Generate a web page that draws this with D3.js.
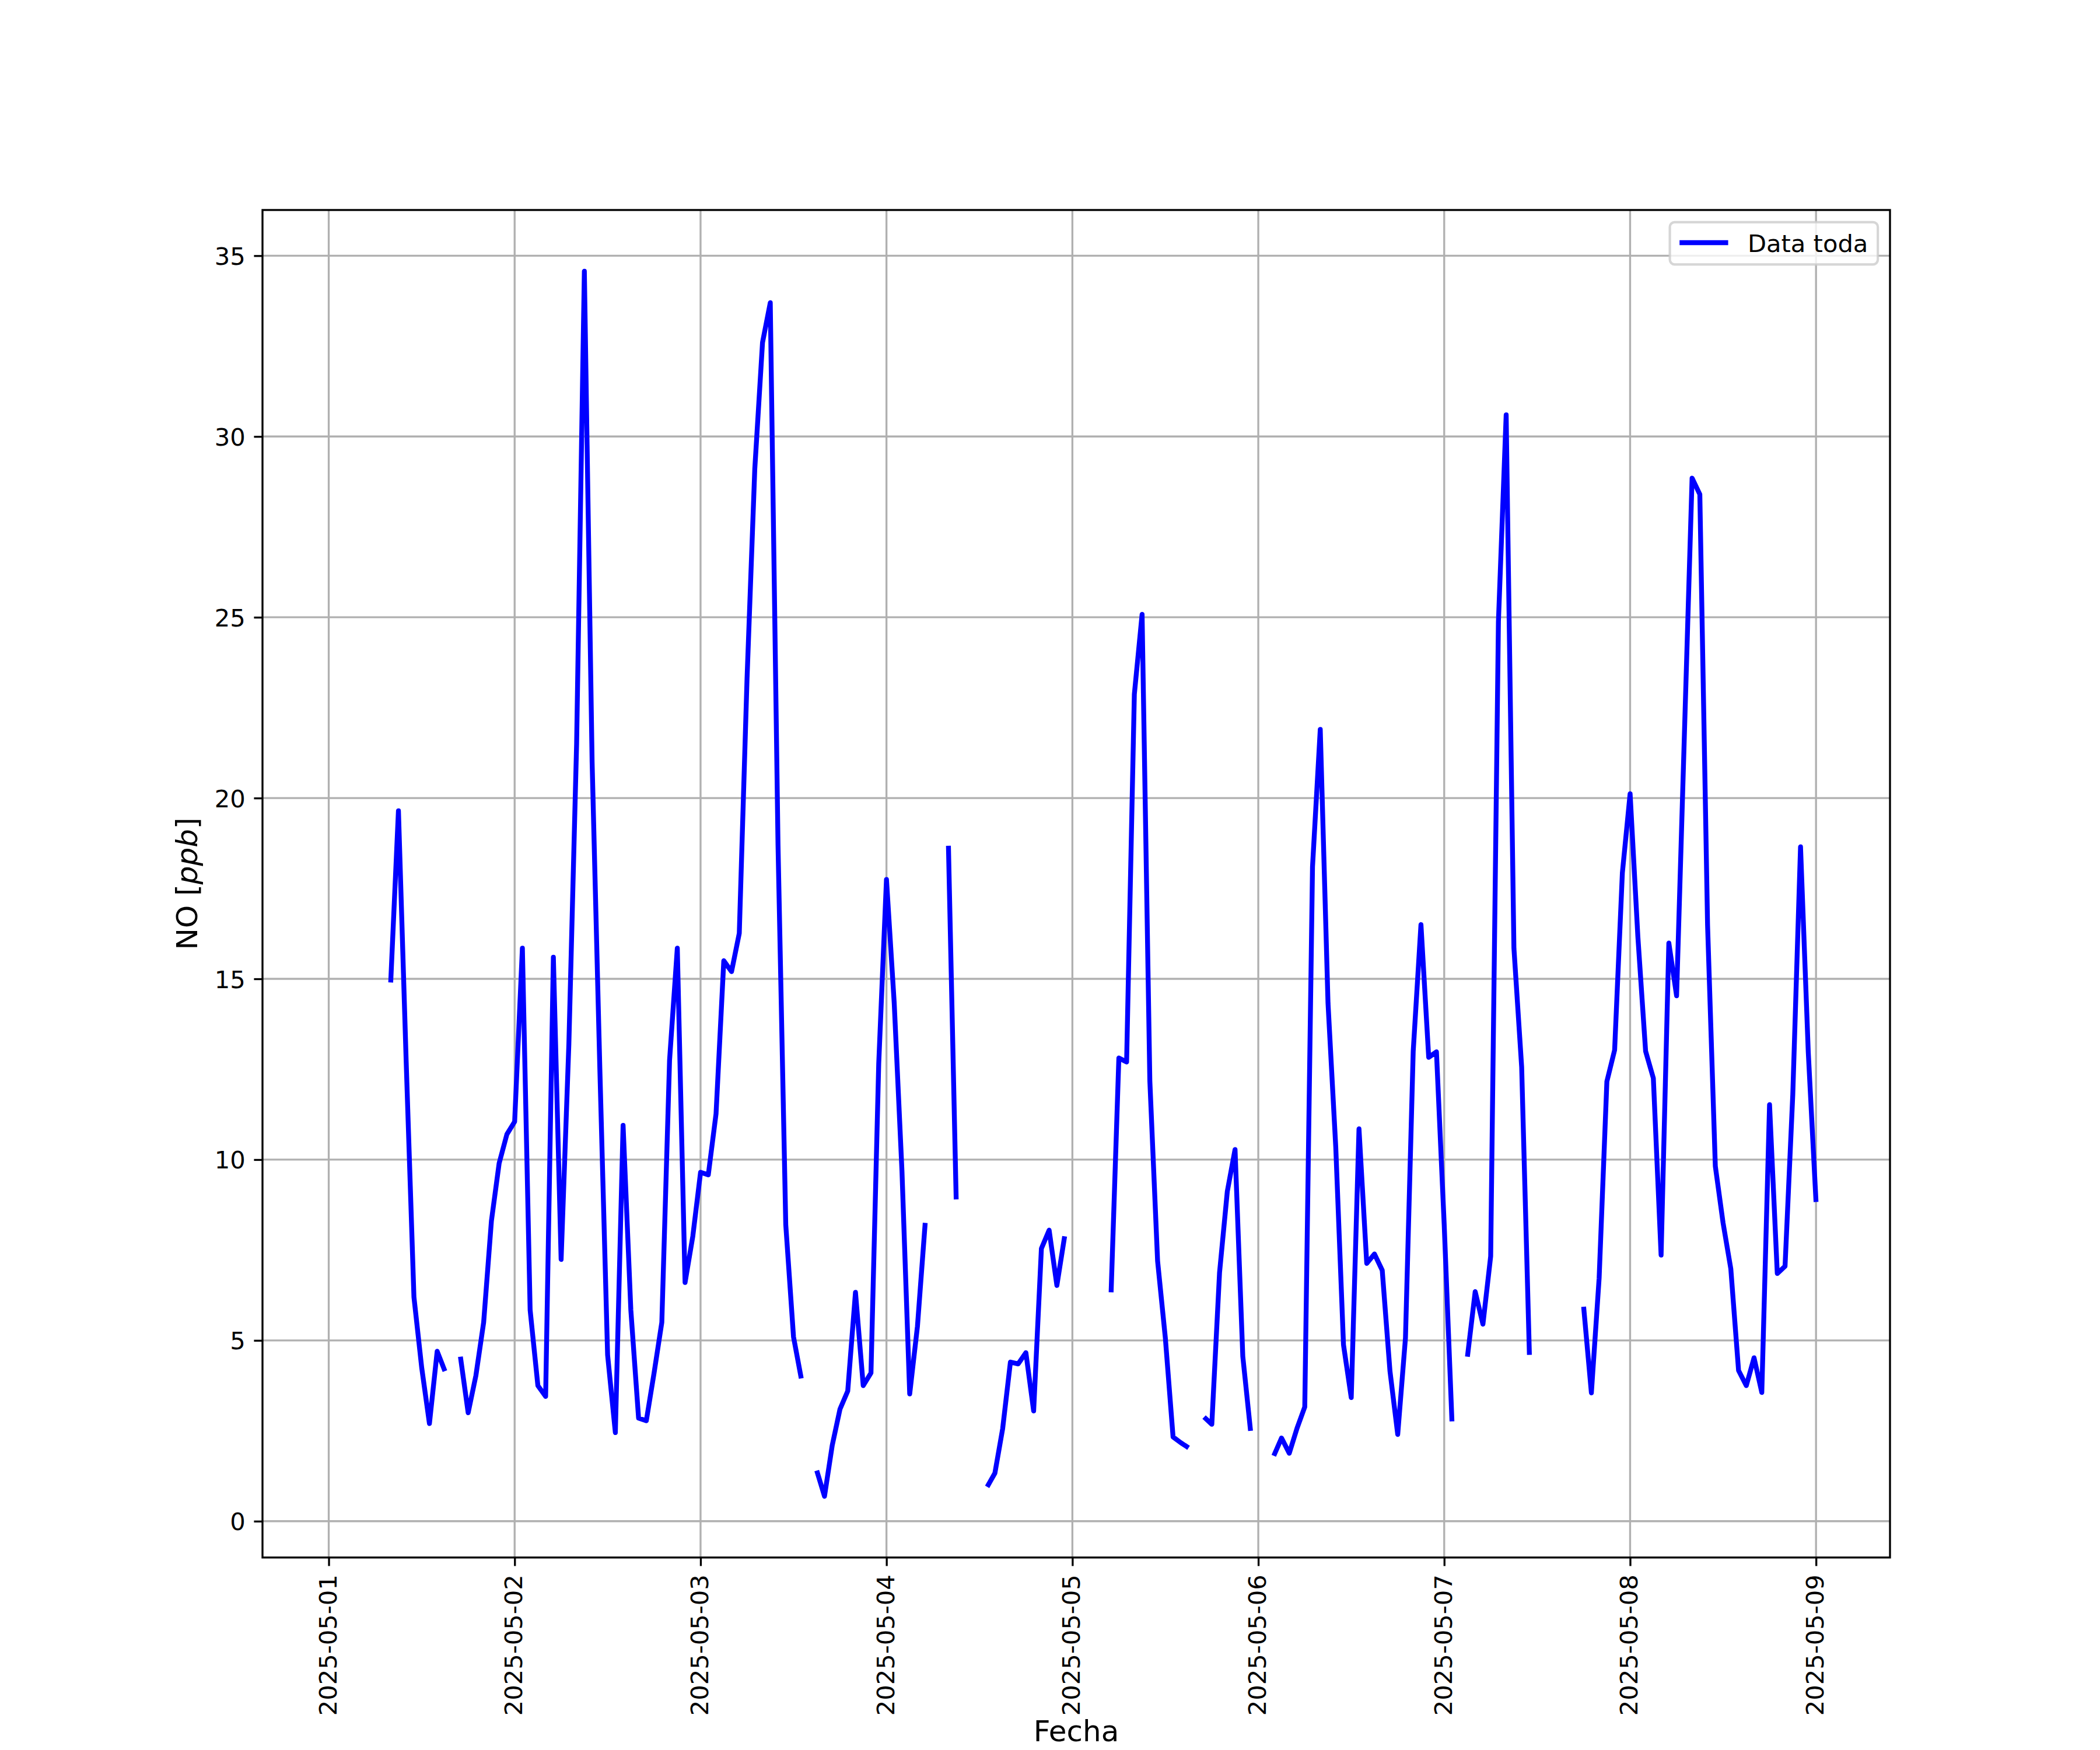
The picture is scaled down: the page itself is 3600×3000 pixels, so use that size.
<!DOCTYPE html>
<html>
<head>
<meta charset="utf-8">
<script src="https://cdn.jsdelivr.net/npm/d3@7"></script>
<style>
  html, body { margin: 0; padding: 0; background: #ffffff; }
  svg { display: block; }
  text { font-family: "DejaVu Sans", sans-serif; }
</style>
</head>
<body>
<script>
// ---------------- data ----------------
const seriesName = "Data toda";
const xLabel = "Fecha";
const yLabelMain = "NO [";
const yLabelUnit = "ppb";
const yLabelEnd = "]";
// hourly series, first timestamp 2025-05-01 01:00, null = missing
const startTime = "2025-05-01T01:00:00Z";
const values = [
  null, null, null, null, null, null, null,
  14.9, 19.65, 12.7, 6.2, 4.25, 2.7, 4.7, 4.15, null, 4.55, 3.0, 4.03, 5.5, 8.3, 9.9, 10.7, 11.05,
  15.85, 5.84, 3.75, 3.45, 15.6, 7.24, 13.2, 21.5, 34.57, 21.0, 12.5, 4.6, 2.45, 10.95, 5.84, 2.85, 2.78, 4.1, 5.5, 12.75, 15.85, 6.6, 7.88, 9.65,
  9.58, 11.27, 15.5, 15.2, 16.26, 23.3, 29.1, 32.6, 33.7, 18.7, 8.2, 5.1, 3.95, null, 1.4, 0.69, 2.1, 3.1, 3.6, 6.33, 3.75, 4.1, 12.65, 17.75,
  14.33, 9.69, 3.52, 5.39, 8.25, null, null, 18.68, 8.9, null, null, null, 0.95, 1.33, 2.56, 4.4, 4.35, 4.66, 3.05, 7.54, 8.05, 6.52, 7.88, null,
  null, null, null, null, 6.33, 12.81, 12.7, 22.87, 25.08, 12.18, 7.2, 5.07, 2.33, 2.17, 2.03, null, 2.88, 2.68, 6.88, 9.12, 10.28, 4.56, 2.5, null,
  null, 1.81, 2.3, 1.88, 2.57, 3.16, 18.1, 21.9, 14.33, 10.35, 4.88, 3.42, 10.85, 7.13, 7.39, 6.94, 4.15, 2.4, 5.07, 13.0, 16.5, 12.83, 12.98, 8.2,
  2.76, null, 4.55, 6.35, 5.45, 7.33, 24.88, 30.6, 15.85, 12.56, 4.6, null, null, null, null, null, null, 5.93, 3.55, 6.72, 12.16, 13.03, 17.93, 20.12,
  16.17, 13.0, 12.25, 7.36, 15.99, 14.53, 21.7, 28.85, 28.4, 16.48, 9.82, 8.25, 6.98, 4.17, 3.75, 4.52, 3.56, 11.52, 6.85, 7.05, 11.8, 18.65, 12.97, 8.83
];
const xTickLabels = ["2025-05-01", "2025-05-02", "2025-05-03", "2025-05-04", "2025-05-05",
                     "2025-05-06", "2025-05-07", "2025-05-08", "2025-05-09"];
const yTicks = [0, 5, 10, 15, 20, 25, 30, 35];

// ---------------- layout ----------------
const W = 3600, H = 3000;
const plot = { left: 450, right: 3240, top: 360, bottom: 2670 };
const FS = 41.667;            // 10 pt @ 300 dpi (ticks, legend)
const LFS = 50;               // 12 pt @ 300 dpi (axis labels)
const tickLen = 14.58, tickPad = 14.58, thin = 3.33;
const LW = 8.33;

const t0 = new Date(startTime).getTime();
const data = values.map((v, i) => ({ t: new Date(t0 + i * 3600e3), v: v }));

const tExt = d3.extent(data, d => d.t);
const tSpan = tExt[1] - tExt[0];
const x = d3.scaleUtc()
  .domain([new Date(+tExt[0] - 0.05 * tSpan), new Date(+tExt[1] + 0.05 * tSpan)])
  .range([plot.left, plot.right]);

const vExt = d3.extent(data.filter(d => d.v != null), d => d.v);
const vSpan = vExt[1] - vExt[0];
const y = d3.scaleLinear()
  .domain([vExt[0] - 0.05 * vSpan, vExt[1] + 0.05 * vSpan])
  .range([plot.bottom, plot.top]);

const xTickDates = xTickLabels.map(s => new Date(s + "T00:00:00Z"));

const svg = d3.select("body").append("svg")
  .attr("width", W).attr("height", H)
  .attr("viewBox", `0 0 ${W} ${H}`);

svg.append("rect").attr("width", W).attr("height", H).attr("fill", "#ffffff");

svg.append("defs").append("clipPath").attr("id", "clip")
  .append("rect")
  .attr("x", plot.left).attr("y", plot.top)
  .attr("width", plot.right - plot.left).attr("height", plot.bottom - plot.top);

// grid
const grid = svg.append("g").attr("stroke", "#b0b0b0").attr("stroke-width", thin);
grid.selectAll("line.gx").data(xTickDates).join("line")
  .attr("x1", d => x(d)).attr("x2", d => x(d))
  .attr("y1", plot.top).attr("y2", plot.bottom);
grid.selectAll("line.gy").data(yTicks).join("line")
  .attr("x1", plot.left).attr("x2", plot.right)
  .attr("y1", d => y(d)).attr("y2", d => y(d));

// series line
const line = d3.line()
  .defined(d => d.v != null)
  .x(d => x(d.t))
  .y(d => y(d.v));

svg.append("path")
  .datum(data)
  .attr("clip-path", "url(#clip)")
  .attr("fill", "none")
  .attr("stroke", "#0000ff")
  .attr("stroke-width", LW)
  .attr("stroke-linejoin", "round")
  .attr("stroke-linecap", "butt")
  .attr("d", line);

// axes
const yAxis = d3.axisLeft(y).tickValues(yTicks).tickSize(tickLen).tickPadding(tickPad)
  .tickFormat(d3.format("d"));
const gy = svg.append("g").attr("transform", `translate(${plot.left},0)`).call(yAxis);
gy.select(".domain").remove();
gy.selectAll(".tick line").attr("stroke", "#000").attr("stroke-width", thin);
gy.selectAll(".tick text")
  .attr("font-family", "DejaVu Sans").attr("font-size", FS).attr("fill", "#000")
  .attr("dy", "0.36em");

const xAxis = d3.axisBottom(x).tickValues(xTickDates).tickSize(tickLen).tickPadding(tickPad)
  .tickFormat((d, i) => xTickLabels[i]);
const gx = svg.append("g").attr("transform", `translate(0,${plot.bottom})`).call(xAxis);
gx.select(".domain").remove();
gx.selectAll(".tick line").attr("stroke", "#000").attr("stroke-width", thin);
gx.selectAll(".tick text")
  .attr("font-family", "DejaVu Sans").attr("font-size", FS).attr("fill", "#000")
  .attr("x", 0).attr("y", 0).attr("dy", "0.3em")
  .attr("text-anchor", "end")
  .attr("transform", `translate(0,${tickLen + tickPad}) rotate(-90)`);
gx.attr("font-family", null).attr("font-size", null);
gy.attr("font-family", null).attr("font-size", null);

// spines
svg.append("rect")
  .attr("x", plot.left).attr("y", plot.top)
  .attr("width", plot.right - plot.left).attr("height", plot.bottom - plot.top)
  .attr("fill", "none").attr("stroke", "#000").attr("stroke-width", thin);

// axis labels
svg.append("text")
  .attr("x", (plot.left + plot.right) / 2).attr("y", 2985)
  .attr("text-anchor", "middle").attr("font-size", LFS).attr("fill", "#000")
  .text(xLabel);

const yl = svg.append("text")
  .attr("transform", `translate(338,${(plot.top + plot.bottom) / 2}) rotate(-90)`)
  .attr("text-anchor", "middle").attr("font-size", LFS).attr("fill", "#000");
yl.append("tspan").text(yLabelMain);
yl.append("tspan").attr("font-style", "italic").text(yLabelUnit);
yl.append("tspan").text(yLabelEnd);

// legend
const lg = svg.append("g");
const lgRight = plot.right - 0.5 * FS, lgTop = plot.top + 0.5 * FS;
const textW = 206.6;
const lgW = 0.4 * FS * 2 + 2 * FS + 0.8 * FS + textW;
const lgH = 72.5;
const lgLeft = lgRight - lgW;
lg.append("rect")
  .attr("x", lgLeft).attr("y", lgTop).attr("width", lgW).attr("height", lgH)
  .attr("rx", 8.3).attr("ry", 8.3)
  .attr("fill", "#ffffff").attr("fill-opacity", 0.8)
  .attr("stroke", "#cccccc").attr("stroke-opacity", 0.8).attr("stroke-width", 4.17);
const hx = lgLeft + 0.4 * FS;
lg.append("line")
  .attr("x1", hx).attr("x2", hx + 2 * FS)
  .attr("y1", 416).attr("y2", 416)
  .attr("stroke", "#0000ff").attr("stroke-width", LW);
lg.append("text")
  .attr("x", hx + 2 * FS + 0.8 * FS).attr("y", 431.5)
  .attr("font-size", FS).attr("fill", "#000")
  .text(seriesName);
</script>
</body>
</html>
